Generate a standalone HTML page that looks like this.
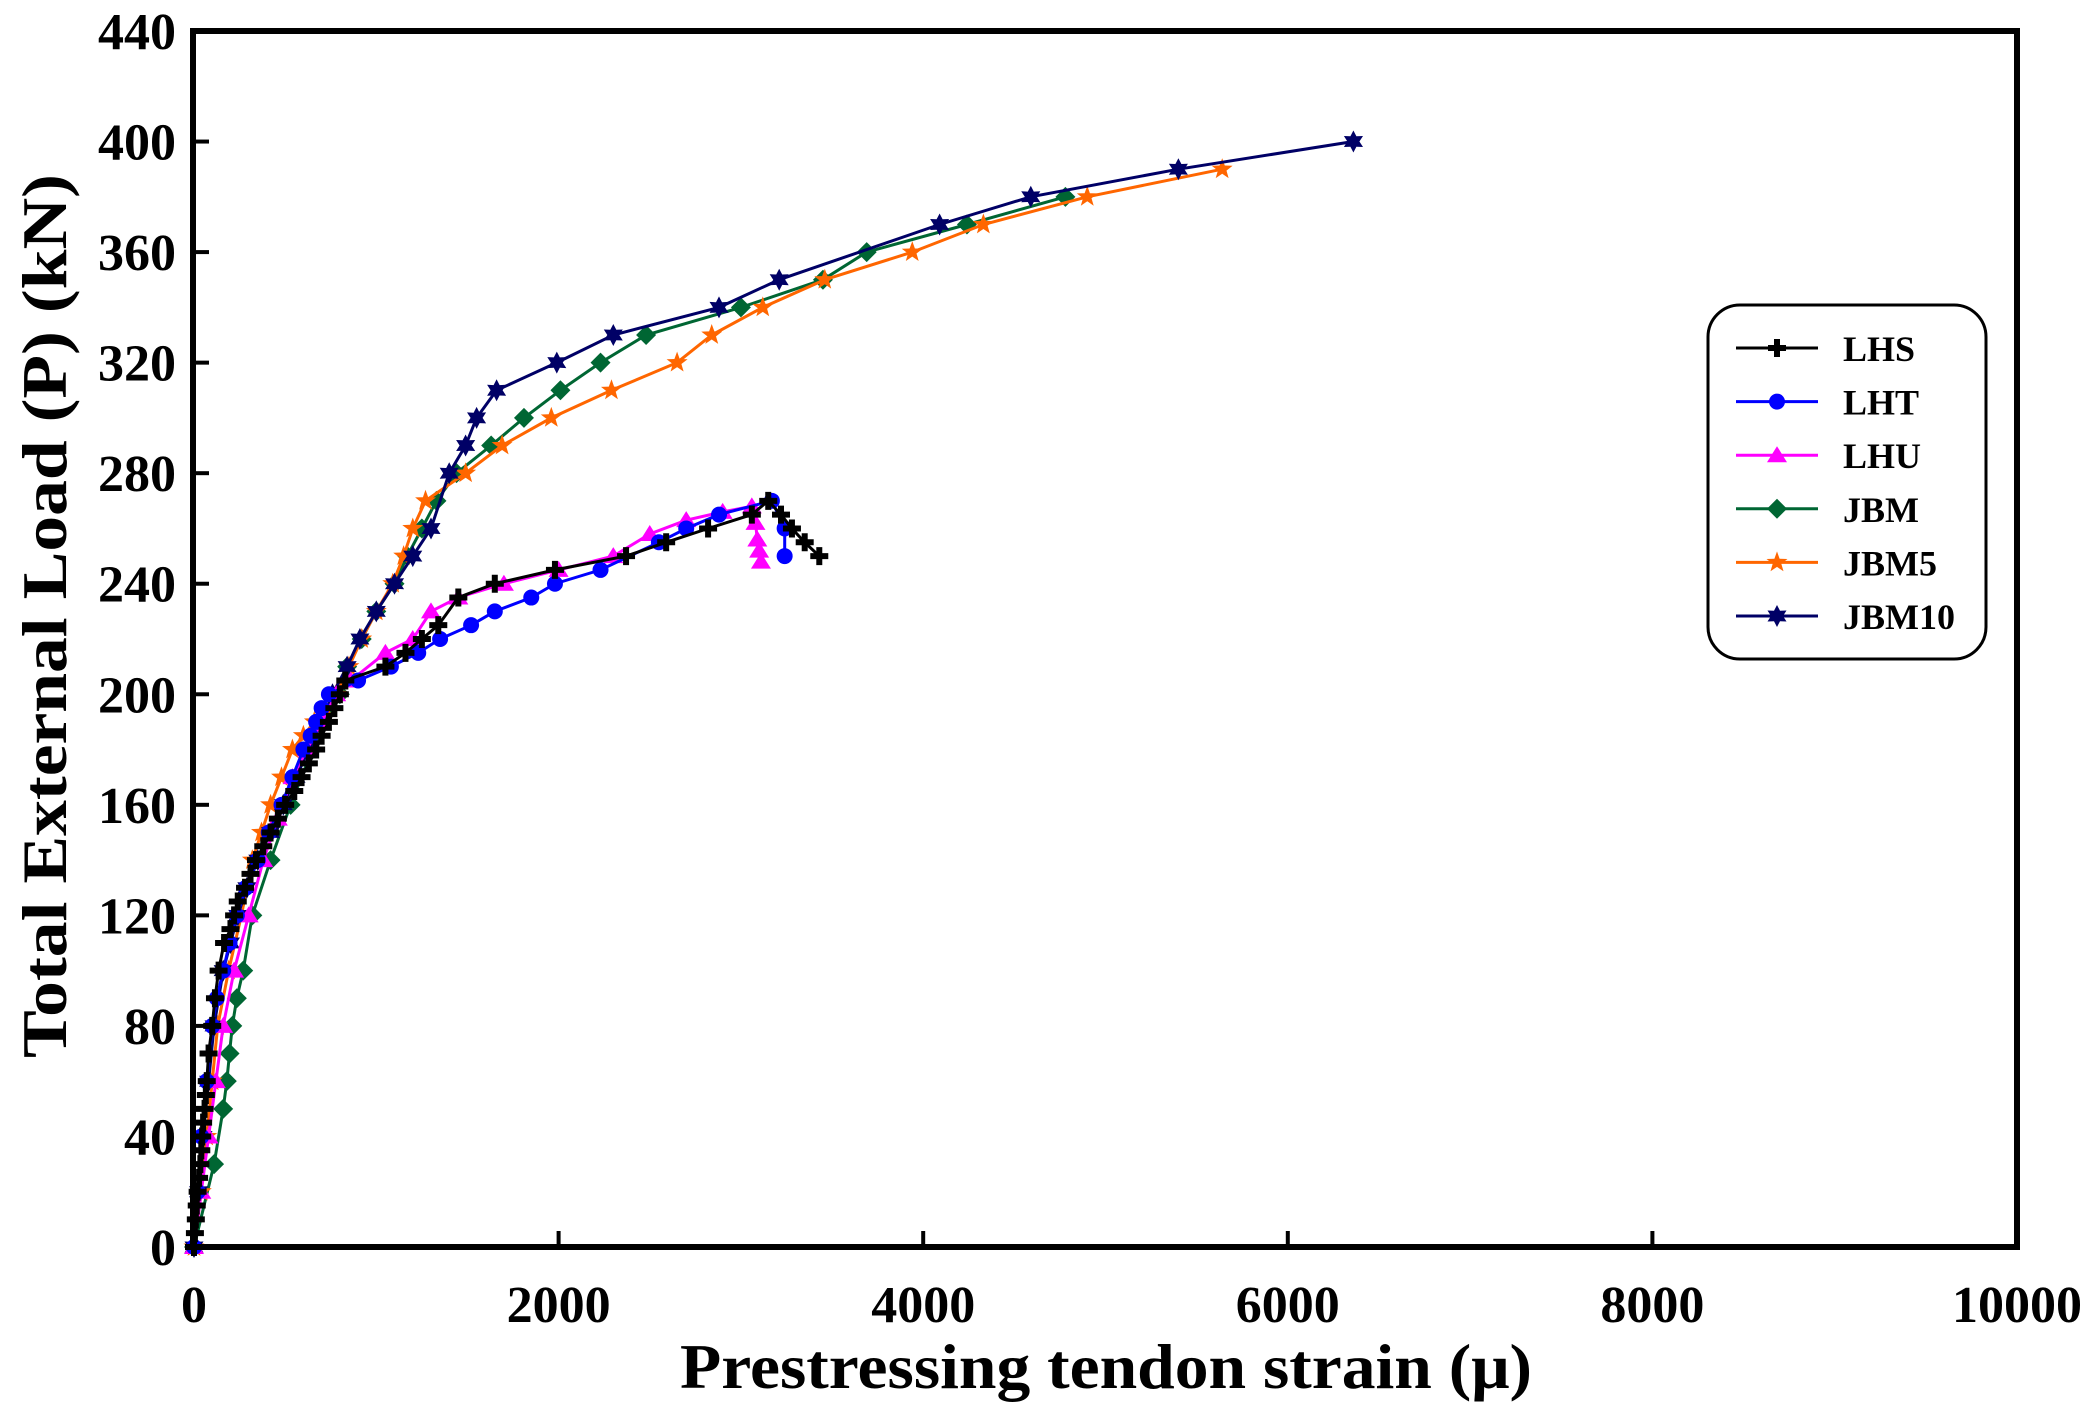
<!DOCTYPE html>
<html><head><meta charset="utf-8"><style>html,body{margin:0;padding:0;background:#fff}svg{display:block}text{font-family:"Liberation Serif",serif;font-weight:bold;fill:#000}</style></head>
<body>
<svg id="chart" width="2099" height="1411" viewBox="0 0 2099 1411" xmlns="http://www.w3.org/2000/svg">
<g id="plot"></g>
</svg>
<script>
const xTicks=[0,2000,4000,6000,8000,10000];
const yTicks=[0,40,80,120,160,200,240,280,320,360,400,440];
const seriesNames=["LHS","LHT","LHU","JBM","JBM5","JBM10"];
const seriesColors=["#000000","#0000ff","#ff00ff","#006633","#ff6600","#000066"];
const lhsX=[0,5,10,15,20,28,35,40,45,50,58,65,70,80,100,115,135,165,200,220,240,280,310,340,380,420,460,500,550,590,630,670,700,740,770,800,830,1050,1160,1250,1340,1450,1650,1980,2370,2590,2820,3060,3150,3220,3280,3350,3430];
const lhsY=[0,5,10,15,20,25,30,35,40,45,50,55,60,70,80,90,100,110,115,120,125,130,135,140,145,150,155,160,165,170,175,180,185,190,195,200,205,210,215,220,225,235,240,245,250,255,260,265,270,265,260,255,250];
const lhtX=[0,20,40,70,100,125,160,195,235,285,350,410,480,540,600,640,670,700,740,900,1080,1230,1350,1520,1650,1850,1980,2230,2550,2700,2880,3170,3240,3240];
const lhtY=[0,20,40,60,80,90,100,110,120,130,140,150,160,170,180,185,190,195,200,205,210,215,220,225,230,235,240,245,255,260,265,270,260,250];
const lhuX=[0,40,80,120,160,220,300,380,460,540,620,700,780,860,1050,1200,1300,1450,1700,2000,2300,2500,2700,2900,3060,3080,3090,3100,3110];
const lhuY=[0,20,40,60,80,100,120,140,155,170,180,190,200,205,215,220,230,235,240,245,250,258,263,266,268,262,256,252,248];
const jbmX=[0,110,160,180,195,210,235,270,320,420,530,650,800,840,920,1000,1100,1170,1250,1330,1440,1630,1810,2010,2230,2480,3000,3450,3690,4240,4780];
const jbmY=[0,30,50,60,70,80,90,100,120,140,160,180,200,210,220,230,240,250,260,270,280,290,300,310,320,330,340,350,360,370,380];
const jbm5X=[0,40,70,100,130,190,260,320,370,420,480,540,600,660,720,780,850,920,1000,1090,1150,1200,1270,1490,1690,1960,2290,2650,2840,3120,3460,3940,4330,4900,5640];
const jbm5Y=[0,20,40,60,80,100,120,140,150,160,170,180,185,190,195,200,210,220,230,240,250,260,270,280,290,300,310,320,330,340,350,360,370,380,390];
const jbm10X=[0,25,50,80,110,160,200,240,290,350,420,490,560,630,700,760,840,910,1000,1100,1200,1300,1400,1490,1550,1660,1990,2300,2880,3210,4090,4590,5400,6360];
const jbm10Y=[0,20,40,60,80,100,110,120,130,140,150,160,170,180,190,200,210,220,230,240,250,260,280,290,300,310,320,330,340,350,370,380,390,400];
const seriesX=[lhsX,lhtX,lhuX,jbmX,jbm5X,jbm10X];
const seriesY=[lhsY,lhtY,lhuY,jbmY,jbm5Y,jbm10Y];

const L=193,R=2017,T=31,B=1247;
const xs=v=>194+(v-0)/10000*(R-194);
const ys=v=>B-v/440*(B-T);
const NS="http://www.w3.org/2000/svg";
const svg=document.getElementById('plot');
function mk(tag,attrs,parent){const e=document.createElementNS(NS,tag);for(const k in attrs)e.setAttribute(k,attrs[k]);(parent||svg).appendChild(e);return e;}

function marker(type,cx,cy,color,g){
  let e;
  if(type==="LHS"){e=mk('path',{d:`M${cx-9},${cy}H${cx+9}M${cx},${cy-9}V${cy+9}`,stroke:color,'stroke-width':6,fill:'none'},g);}
  else if(type==="LHT"){e=mk('circle',{cx:cx,cy:cy,r:8,fill:color},g);}
  else if(type==="LHU"){e=mk('path',{d:`M${cx},${cy-9}L${cx+10},${cy+7}L${cx-10},${cy+7}Z`,fill:color},g);}
  else if(type==="JBM"){e=mk('path',{d:`M${cx},${cy-10}L${cx+10},${cy}L${cx},${cy+10}L${cx-10},${cy}Z`,fill:color},g);}
  else if(type==="JBM5"){let p=[];for(let i=0;i<10;i++){const r=i%2?4.5:11,a=-Math.PI/2+i*Math.PI/5;p.push((cx+r*Math.cos(a)).toFixed(1)+','+(cy+r*Math.sin(a)).toFixed(1));}e=mk('polygon',{points:p.join(' '),fill:color},g);}
  else {let p=[];for(let i=0;i<12;i++){const r=i%2?6:11,a=-Math.PI/2+i*Math.PI/6;p.push((cx+r*Math.cos(a)).toFixed(1)+','+(cy+r*Math.sin(a)).toFixed(1));}e=mk('polygon',{points:p.join(' '),fill:color},g);}
  return e;
}

const ticksG=mk('g',{});


xTicks.forEach(v=>{
  const x=xs(v);
  const tk=mk('line',{x1:x,x2:x,y1:B,y2:B-16,stroke:'#000','stroke-width':4},ticksG);
  
  
  const t=mk('text',{x:x,y:1322,'text-anchor':'middle','font-size':52},ticksG);
  t.textContent=v;
  
  
});
yTicks.forEach(v=>{
  const y=ys(v);
  const tk=mk('line',{x1:L,x2:L+16,y1:y,y2:y,stroke:'#000','stroke-width':4},ticksG);
  
  
  const t=mk('text',{x:176,y:y+18,'text-anchor':'end','font-size':52},ticksG);
  t.textContent=v;
  
  
});

const order=[3,4,5,2,1,0];
order.forEach(i=>{
  const n=seriesNames[i];
  const g=mk('g',{});
  
  
  const X=seriesX[i],Y=seriesY[i];
  const pts=X.map((x,j)=>xs(x).toFixed(1)+','+ys(Y[j]).toFixed(1)).join(' ');
  const pl=mk('polyline',{points:pts,fill:'none',stroke:seriesColors[i],'stroke-width':3},g);
  
  
  X.forEach((x,j)=>{
    const m=marker(n,xs(x),ys(Y[j]),seriesColors[i],g);
    
    
  });
});

const fr=mk('rect',{x:L,y:T,width:R-L,height:B-T,fill:'none',stroke:'#000','stroke-width':6});



const xt=mk('text',{x:1106,y:1388,'text-anchor':'middle','font-size':64,textLength:852,lengthAdjust:'spacingAndGlyphs'});
xt.textContent='Prestressing tendon strain (μ)';


const yt=mk('text',{x:0,y:0,'text-anchor':'middle','font-size':64,textLength:884,lengthAdjust:'spacingAndGlyphs',transform:'translate(66,616) rotate(-90)'});
yt.textContent='Total External Load (P) (kN)';



const lg=mk('g',{});


const lb=mk('rect',{x:1708,y:305,width:278,height:354,rx:32,ry:32,fill:'#fff',stroke:'#000','stroke-width':3},lg);


seriesNames.forEach((n,i)=>{
  const y=348+i*53.6;
  const e=mk('g',{},lg);
  
  
  mk('line',{x1:1736,x2:1818,y1:y,y2:y,stroke:seriesColors[i],'stroke-width':3},e);
  marker(n,1777,y,seriesColors[i],e);
  const t=mk('text',{x:1843,y:y+13,'font-size':36},e);
  t.textContent=n;
});
</script>
</body></html>
